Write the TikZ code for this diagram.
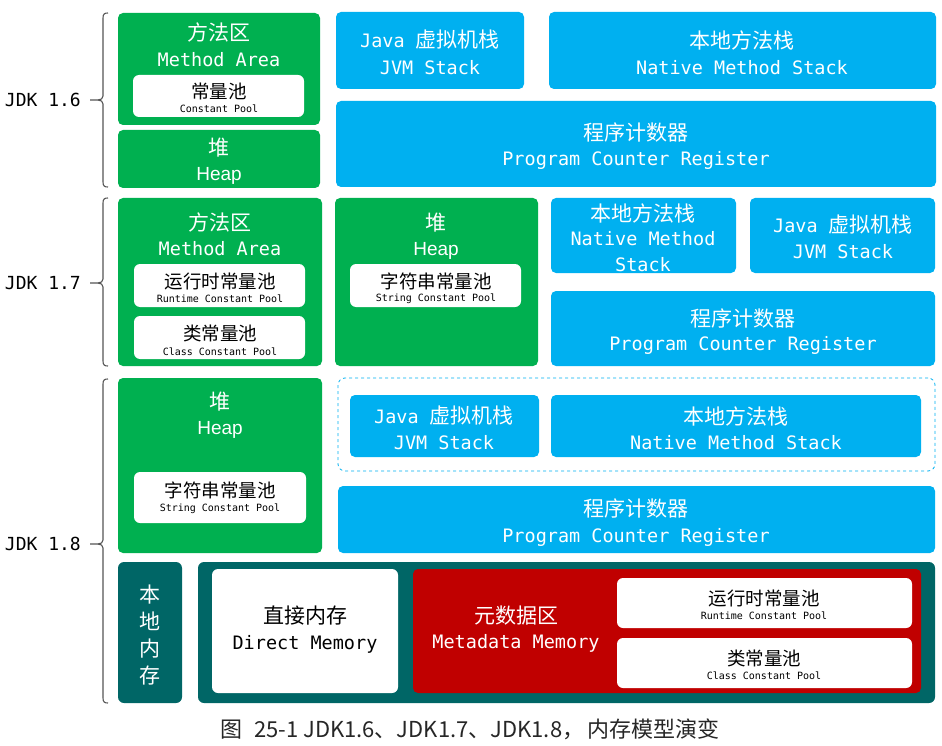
\documentclass[tikz,border=0pt]{standalone}
\usepackage{fontspec}
\newfontfamily\cjk{Noto Sans CJK SC}
\newfontfamily\mono{DejaVu Sans Mono}
\newfontfamily\hsans{Liberation Sans}
\definecolor{jgreen}{HTML}{00B050}
\definecolor{jblue}{HTML}{00B0F0}
\definecolor{jteal}{HTML}{006666}
\definecolor{jred}{HTML}{C00000}
\definecolor{bracegray}{HTML}{555555}
\newcommand\bx[6]{\node[#6, minimum width={(#4)-(#2)}, minimum height={(#5)-(#3)}] (#1) at ({((#2)+(#4))/2},{((#3)+(#5))/2}) {};}
\newcommand\tx[5]{\node[#4] (#1) at (#2,#3) {#5};}
\newcommand\brk[3]{%
  \draw[bracestyle] (108,#1) .. controls (104.5,#1) and (103,{#1+1}) .. (103,{#1+5}) -- (103,{#2-4}) .. controls (103,{#2-1.5}) and (101,#2) .. (98,#2) -- (90,#2);
  \draw[bracestyle] (98,#2) .. controls (101,#2) and (103,{#2+1.5}) .. (103,{#2+4}) -- (103,{#3-5}) .. controls (103,{#3-1}) and (104.5,#3) .. (108,#3);}
\begin{document}
\begin{tikzpicture}[x=1pt,y=-1pt,
  bracestyle/.style={draw=bracegray, line width=1.1pt},
  gbox/.style={fill=jgreen, rounded corners=5pt, inner sep=0pt},
  bbox/.style={fill=jblue, rounded corners=5pt, inner sep=0pt},
  wbox/.style={fill=white, rounded corners=6pt, inner sep=0pt},
  tbox/.style={fill=jteal, rounded corners=6pt, inner sep=0pt},
  rbox/.style={fill=jred, rounded corners=5pt, inner sep=0pt},
  dbox/.style={draw=jblue, dashed, line width=0.8pt, rounded corners=7pt, inner sep=0pt},
  wt/.style={text=white, inner sep=0pt},
  bt/.style={text=black, inner sep=0pt},
  zh/.style={font=\cjk\fontsize{21}{24}\selectfont},
  zhs/.style={font=\cjk\fontsize{18.5}{20}\selectfont},
  en/.style={font=\mono\fontsize{18.5}{20}\selectfont},
  ens/.style={font=\mono\fontsize{10}{12}\selectfont},
  mix/.style={font=\fontsize{18.5}{20}\selectfont},
  hp/.style={font=\hsans\fontsize{19}{20}\selectfont},
  jdk/.style={text=black, inner sep=0pt, anchor=east, font=\mono\fontsize{18}{20}\selectfont},
  captext/.style={text=black!85, inner sep=0pt, font=\cjk\fontsize{22}{24}\selectfont}]
\useasboundingbox (0,0) rectangle (942,746);

% ---------------- JDK 1.6 ----------------
\brk{13}{100}{187}
\tx{l16}{81}{100}{jdk}{JDK 1.6}
\bx{ma6}{118}{13}{320}{125}{gbox}
\tx{ma6a}{219}{32}{wt,zh}{方法区}
\tx{ma6b}{219}{60}{wt,en}{Method Area}
\bx{cp6}{133}{75}{304}{117}{wbox}
\tx{cp6a}{219}{91}{bt,zhs}{常量池}
\tx{cp6b}{219}{109}{bt,ens}{Constant Pool}
\bx{hp6}{118}{130}{320}{188}{gbox}
\tx{hp6a}{219}{148}{wt,zh}{堆}
\tx{hp6b}{219}{176}{wt,hp}{Heap}
\bx{jv6}{336}{12}{524}{89}{bbox}
\tx{jv6a}{430}{40}{wt,mix}{{\mono Java }{\cjk\fontsize{21}{24}\selectfont 虚拟机栈}}
\tx{jv6b}{430}{68}{wt,en}{JVM Stack}
\bx{nm6}{549}{12}{936}{89}{bbox}
\tx{nm6a}{742}{40}{wt,zh}{本地方法栈}
\tx{nm6b}{742}{68}{wt,en}{Native Method Stack}
\bx{pc6}{336}{101}{936}{187}{bbox}
\tx{pc6a}{636}{132}{wt,zh}{程序计数器}
\tx{pc6b}{636}{160}{wt,en}{Program Counter Register}

% ---------------- JDK 1.7 ----------------
\brk{198}{283}{366}
\tx{l17}{81}{283}{jdk}{JDK 1.7}
\bx{ma7}{118}{198}{322}{366}{gbox}
\tx{ma7a}{220}{222}{wt,zh}{方法区}
\tx{ma7b}{220}{249}{wt,en}{Method Area}
\bx{rc7}{134}{264}{305}{307}{wbox}
\tx{rc7a}{220}{281}{bt,zhs}{运行时常量池}
\tx{rc7b}{220}{299}{bt,ens}{Runtime Constant Pool}
\bx{cc7}{134}{316}{305}{359}{wbox}
\tx{cc7a}{220}{333}{bt,zhs}{类常量池}
\tx{cc7b}{220}{352}{bt,ens}{Class Constant Pool}
\bx{hp7}{335}{198}{538}{366}{gbox}
\tx{hp7a}{436}{223}{wt,zh}{堆}
\tx{hp7b}{436}{251}{wt,hp}{Heap}
\bx{sc7}{350}{264}{521}{307}{wbox}
\tx{sc7a}{436}{281}{bt,zhs}{字符串常量池}
\tx{sc7b}{436}{299}{bt,ens}{String Constant Pool}
\bx{nm7}{551}{198}{736}{273}{bbox}
\tx{nm7a}{643}{213}{wt,zh}{本地方法栈}
\tx{nm7b}{643}{239}{wt,en}{Native Method}
\tx{nm7c}{643}{265}{wt,en}{Stack}
\bx{jv7}{750}{198}{935}{273}{bbox}
\tx{jv7a}{843}{225}{wt,mix}{{\mono Java }{\cjk\fontsize{21}{24}\selectfont 虚拟机栈}}
\tx{jv7b}{843}{252}{wt,en}{JVM Stack}
\bx{pc7}{551}{291}{935}{366}{bbox}
\tx{pc7a}{743}{318}{wt,zh}{程序计数器}
\tx{pc7b}{743}{345}{wt,en}{Program Counter Register}

% ---------------- JDK 1.8 ----------------
\brk{379}{544}{703}
\tx{l18}{81}{544}{jdk}{JDK 1.8}
\bx{hp8}{118}{378}{322}{553}{gbox}
\tx{hp8a}{220}{402}{wt,zh}{堆}
\tx{hp8b}{220}{430}{wt,hp}{Heap}
\bx{sc8}{134}{472}{306}{523}{wbox}
\tx{sc8a}{220}{490}{bt,zhs}{字符串常量池}
\tx{sc8b}{220}{509}{bt,ens}{String Constant Pool}
\bx{ds8}{338}{378}{935}{471}{dbox}
\bx{jv8}{350}{395}{539}{457}{bbox}
\tx{jv8a}{444}{416}{wt,mix}{{\mono Java }{\cjk\fontsize{21}{24}\selectfont 虚拟机栈}}
\tx{jv8b}{444}{443}{wt,en}{JVM Stack}
\bx{nm8}{551}{395}{921}{457}{bbox}
\tx{nm8a}{736}{416}{wt,zh}{本地方法栈}
\tx{nm8b}{736}{443}{wt,en}{Native Method Stack}
\bx{pc8}{338}{486}{935}{553}{bbox}
\tx{pc8a}{636}{508}{wt,zh}{程序计数器}
\tx{pc8b}{636}{537}{wt,en}{Program Counter Register}

\bx{lm8}{118}{562}{182}{703}{tbox}
\node[wt, align=center, font=\cjk\fontsize{21}{26.7}\selectfont] (lm8a) at (150,635) {本\\地\\内\\存};
\bx{ct8}{198}{562}{935}{703}{tbox}
\bx{dm8}{212}{569}{398}{693}{wbox}
\tx{dm8a}{305}{616}{bt,zh}{直接内存}
\tx{dm8b}{305}{644}{bt,en}{Direct Memory}
\bx{md8}{413}{569}{921}{693}{rbox}
\tx{md8a}{516}{616}{wt,zh}{元数据区}
\tx{md8b}{516}{643}{wt,en}{Metadata Memory}
\bx{rc8}{617}{578}{912}{628}{wbox}
\tx{rc8a}{764}{598}{bt,zhs}{运行时常量池}
\tx{rc8b}{764}{616}{bt,ens}{Runtime Constant Pool}
\bx{cc8}{617}{638}{912}{688}{wbox}
\tx{cc8a}{764}{658}{bt,zhs}{类常量池}
\tx{cc8b}{764}{676}{bt,ens}{Class Constant Pool}

% caption
\tx{captionnode}{470}{729}{captext}{图\hspace{12pt}25-1 JDK1.6、JDK1.7、JDK1.8，\,内存模型演变}
\end{tikzpicture}
\end{document}
